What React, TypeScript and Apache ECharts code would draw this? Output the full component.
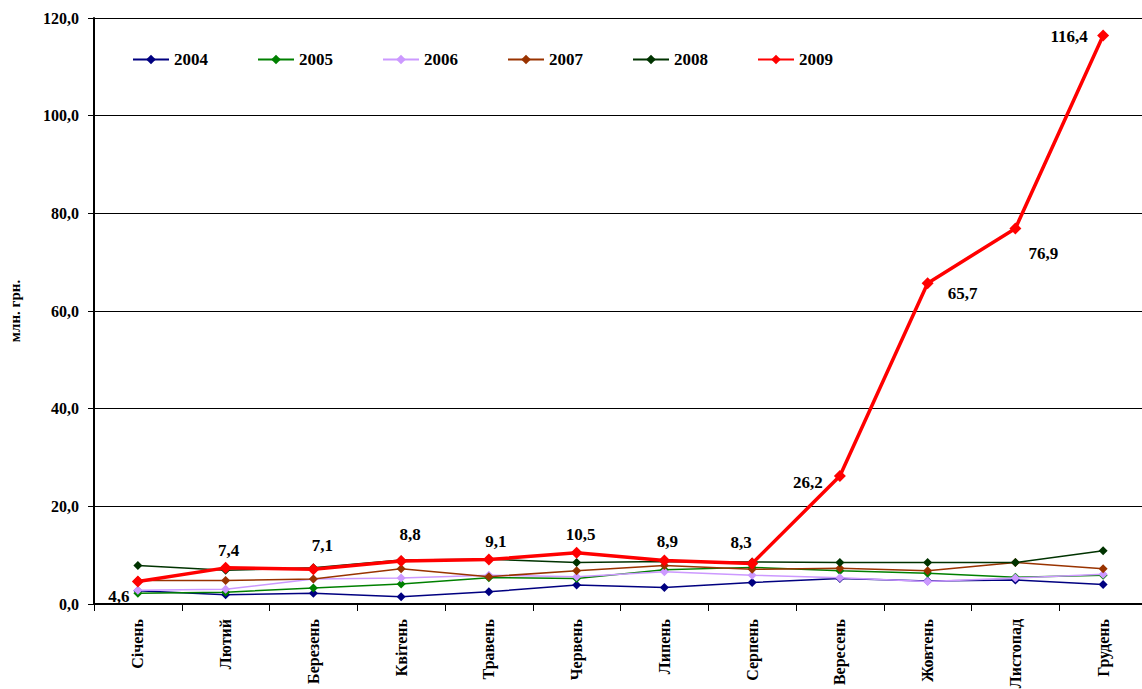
import React, { useEffect, useRef } from "react";
import * as echarts from "echarts";

const categories = ["Січень", "Лютий", "Березень", "Квітень", "Травень", "Червень", "Липень", "Серпень", "Вересень", "Жовтень", "Листопад", "Грудень"];
const years = ["2004", "2005", "2006", "2007", "2008", "2009"];
const v2004 = [2.7, 1.9, 2.2, 1.5, 2.5, 3.9, 3.4, 4.4, 5.2, 4.7, 4.9, 4.0];
const v2005 = [2.2, 2.4, 3.3, 4.1, 5.4, 5.2, 7.0, 7.5, 6.8, 6.3, 5.5, 5.9];
const v2006 = [2.8, 3.0, 5.1, 5.3, 5.9, 5.6, 6.6, 5.9, 5.4, 4.6, 5.3, 6.1];
const v2007 = [4.8, 4.8, 5.1, 7.2, 5.6, 6.8, 7.9, 7.1, 7.3, 6.8, 8.5, 7.2];
const v2008 = [7.9, 6.9, 7.4, 9.0, 9.15, 8.5, 8.7, 8.6, 8.5, 8.5, 8.5, 10.9];
const v2009 = [4.6, 7.4, 7.1, 8.8, 9.1, 10.5, 8.9, 8.3, 26.2, 65.7, 76.9, 116.4];
const yTicks = [0, 20, 40, 60, 80, 100, 120];

const colors = ["#000080", "#008000", "#CC99FF", "#993300", "#003300", "#FF0000"];
const labelOffsets = [
  [-19, 15], [3, -17], [9, -24], [9, -27], [7, -18], [4, -18],
  [3, -19], [-11, -21], [-32, 6], [35, 10], [28, 25], [-34, 1],
];

const FONT = "'Liberation Serif', 'Times New Roman', serif";
const fmt = (v: number) => v.toFixed(1).replace(".", ",");

export default function App() {
  const ref = useRef<HTMLDivElement>(null);
  useEffect(() => {
    if (!ref.current) return;
    const chart = echarts.init(ref.current, null, { renderer: "svg" });
    const all = [v2004, v2005, v2006, v2007, v2008, v2009];
    const series: any[] = all.map((vals, i) => {
      const is09 = i === 5;
      return {
        name: years[i],
        type: "line",
        symbol: "diamond",
        symbolSize: is09 ? 12 : 9,
        z: 2 + i,
        lineStyle: { color: colors[i], width: is09 ? 3.5 : 1.5 },
        itemStyle: { color: colors[i] },
        data: is09
          ? vals.map((v, k) => ({ value: v, label: { offset: labelOffsets[k] } }))
          : vals,
        label: is09
          ? {
              show: true,
              position: "inside",
              formatter: (p: any) => fmt(p.value),
              color: "#000",
              fontFamily: FONT,
              fontWeight: "bold",
              fontSize: 17,
            }
          : { show: false },
      };
    });
    chart.setOption({
      animation: false,
      backgroundColor: "#fff",
      grid: { left: 94, top: 18, width: 1053, height: 586, containLabel: false, outerBoundsMode: "none" },
      legend: {
        left: 127,
        top: 46,
        itemWidth: 36,
        itemHeight: 12,
        itemGap: 49,
        data: years,
        textStyle: { fontFamily: FONT, fontWeight: "bold", fontSize: 17, color: "#000" },
      },
      xAxis: {
        type: "category",
        data: categories,
        axisLine: { lineStyle: { color: "#000", width: 2 } },
        axisTick: { show: true, length: 7, lineStyle: { color: "#000" } },
        axisLabel: {
          rotate: 90,
          margin: 15,
          interval: 0,
          color: "#000",
          fontFamily: FONT,
          fontWeight: "bold",
          fontSize: 16,
        },
      },
      yAxis: {
        type: "value",
        min: yTicks[0],
        max: yTicks[yTicks.length - 1],
        interval: 20,
        name: "млн. грн.",
        nameLocation: "middle",
        nameGap: 72,
        nameRotate: 90,
        nameTextStyle: { fontFamily: FONT, fontWeight: "bold", fontSize: 15, color: "#000" },
        axisLine: { show: true, lineStyle: { color: "#000", width: 2 } },
        axisTick: { show: true, length: 6, lineStyle: { color: "#000" } },
        splitLine: { lineStyle: { color: "#000", width: 1 } },
        axisLabel: {
          margin: 15,
          color: "#000",
          fontFamily: FONT,
          fontWeight: "bold",
          fontSize: 16,
          formatter: (v: number) => fmt(v),
        },
      },
      series,
    });
    return () => chart.dispose();
  }, []);
  return (
    <div style={{ position: "absolute", left: 0, top: 0, width: 1142, height: 689, overflow: "hidden" }}>
      <div ref={ref} style={{ width: 1142, height: 689 }} />
    </div>
  );
}
